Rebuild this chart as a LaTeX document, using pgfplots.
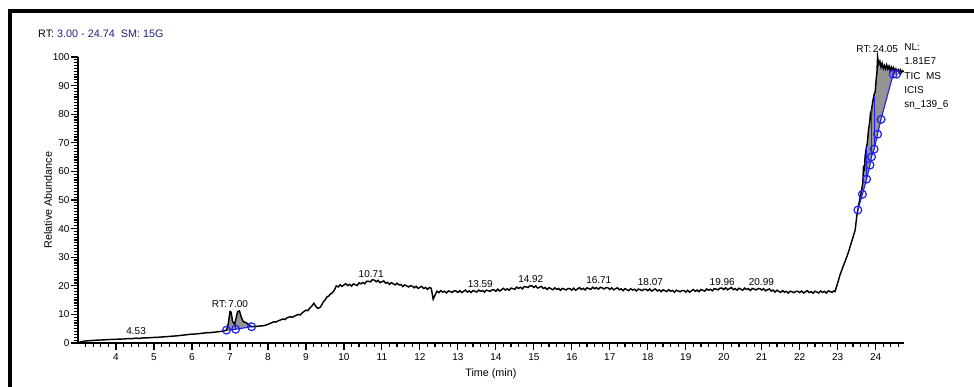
\documentclass[border=0pt]{standalone}
\usepackage{fontspec}
\setmainfont{Liberation Sans}
\usepackage{pgfplots}
\pgfplotsset{compat=1.18}
\definecolor{navy}{rgb}{0.12,0.12,0.48}
\definecolor{pkblue}{rgb}{0.12,0.12,0.95}
\begin{document}
\begin{tikzpicture}
\useasboundingbox (0pt,0pt) rectangle (974pt,387pt);
\draw[line width=4pt, line join=miter] (9.5pt,0pt) -- (9.5pt,375.7pt) -- (976pt,375.7pt);
\node[anchor=base west, inner sep=0, font=\fontsize{10.8}{12}\selectfont] at (38pt,349.5pt) {RT: \textcolor{navy}{3.00 - 24.74\ \ SM: 15G}};
\begin{axis}[
  at={(78pt,44pt)}, anchor=south west,
  width=825.8pt, height=286pt, scale only axis,
  xmin=3, xmax=24.74, ymin=0, ymax=100,
  axis x line=bottom, axis y line=left,
  axis line style={-, line width=1.4pt},
  xtick={4,...,24}, ytick={0,10,...,100},
  minor xtick={3.2,3.4,...,24.6}, minor ytick={1,...,99},
  tick align=outside,
  major tick length=7pt, minor tick length=4.5pt,
  every tick/.style={black, line width=1.2pt},
  ticklabel style={font=\fontsize{10}{11}\selectfont},
  yticklabel style={xshift=2pt},
  /pgf/number format/assume math mode=true,
  xlabel={Time (min)}, ylabel={Relative Abundance},
  label style={font=\fontsize{10.8}{12}\selectfont},
  xlabel style={at={(axis description cs:0.5,-0.1084)}, anchor=center},
  ylabel style={at={(axis description cs:-0.0363,0.5)}, anchor=center},
  clip=false,
]
% gray peak areas
\addplot[fill=black!42, draw=none] coordinates {(6.91,4.5)(6.96,7.0)(7.00,11.0)(7.03,10.8)(7.07,7.5)(7.12,6.6)(7.16,8.5)(7.20,11.0)(7.25,11.2)(7.30,9.0)(7.35,7.5)(7.44,7.0)(7.50,6.3)(7.57,5.7)(7.15,4.8)} -- cycle;
\addplot[fill=black!42, draw=none] coordinates {(23.53,46.5)(23.56,48.8)(23.60,51.5)(23.63,53.5)(23.66,56.0)(23.68,62.0)(23.70,60.0)(23.72,65.1)(23.75,68.0)(23.78,70.0)(23.81,74.5)(23.84,77.0)(23.86,80.0)(23.88,79.0)(23.90,82.6)(23.93,85.0)(23.96,87.0)(23.99,88.0)(24.01,92.0)(24.03,94.0)(24.05,100.0)(24.08,97.5)(24.11,98.5)(24.14,96.5)(24.17,97.8)(24.20,96.0)(24.23,97.0)(24.26,95.8)(24.29,97.2)(24.32,95.8)(24.35,96.8)(24.38,95.2)(24.41,96.5)(24.44,95.5)(24.47,96.3)(24.50,95.0)(24.53,95.8)(24.55,95.0)(24.55,94.0)(24.46,94.0)(24.14,78.2)(24.05,73.0)(23.96,67.8)(23.89,65.1)(23.85,62.2)(23.76,57.3)(23.65,52.0)} -- cycle;
% trace
\addplot[black, line width=1.45pt] coordinates {
(3.00,0.0)(3.05,0.3)(3.10,0.5)(3.20,0.7)(3.30,0.8)(3.40,0.9)(3.50,1.0)(3.60,1.05)(3.70,1.1)(3.80,1.2)(3.90,1.25)(4.00,1.3)(4.10,1.35)(4.20,1.4)(4.30,1.5)(4.40,1.5)(4.53,1.7)(4.60,1.6)(4.70,1.75)(4.80,1.8)(4.90,1.85)(5.00,1.95)(5.10,2.0)(5.20,2.1)(5.30,2.2)(5.40,2.3)(5.50,2.4)(5.60,2.5)(5.70,2.65)(5.80,2.8)(5.90,2.95)(6.00,3.1)(6.10,3.15)(6.20,3.3)(6.30,3.45)(6.40,3.6)(6.50,3.65)(6.60,3.8)(6.70,3.95)(6.80,4.1)(6.86,4.3)(6.91,4.5)(6.96,7.0)(7.00,11.0)(7.03,10.8)(7.07,7.5)(7.12,6.6)(7.16,8.5)(7.20,11.0)(7.25,11.2)(7.30,9.0)(7.35,7.5)(7.44,7.0)(7.50,6.3)(7.57,5.7)(7.65,5.7)(7.75,5.9)(7.89,6.05)(8.00,6.5)(8.10,7.1)(8.15,7.4)(8.20,7.3)(8.30,7.9)(8.40,8.4)(8.45,8.2)(8.50,8.8)(8.59,9.2)(8.65,9.0)(8.70,9.4)(8.80,10.0)(8.85,9.8)(8.90,10.5)(9.00,11.5)(9.05,11.3)(9.10,12.2)(9.15,12.8)(9.21,13.9)(9.25,13.0)(9.31,12.1)(9.38,12.5)(9.45,14.2)(9.50,15.0)(9.56,16.2)(9.60,16.4)(9.65,17.2)(9.70,17.6)(9.75,18.5)
(9.80,20.0)(9.85,19.6)(9.90,20.35)(9.95,19.8)(10.00,20.3)(10.05,20.7)(10.10,20.05)(10.15,20.5)(10.20,19.9)(10.25,20.65)(10.30,20.4)(10.35,20.1)(10.40,21.0)(10.45,20.7)(10.50,21.15)(10.55,20.7)(10.60,21.6)(10.65,21.55)(10.70,21.4)(10.75,22.1)(10.80,22.0)(10.85,21.4)(10.90,21.9)(10.95,21.1)(11.00,21.4)(11.05,21.7)(11.10,20.9)(11.15,21.2)(11.20,20.5)(11.25,21.1)(11.30,20.7)(11.35,20.3)(11.40,20.9)(11.45,20.3)(11.50,20.45)(11.55,19.75)(11.60,20.3)(11.65,20.0)(11.70,19.6)(11.75,20.0)(11.80,19.9)(11.85,19.3)(11.90,19.85)(11.95,19.1)(12.00,19.45)(12.05,19.8)(12.10,19.05)(12.15,19.4)(12.20,18.75)(12.25,19.4)(12.30,19.1)(12.35,15.3)(12.40,16.8)(12.45,18.1)(12.50,17.6)(12.55,18.3)(12.60,17.8)(12.65,18.1)(12.70,17.5)(12.75,18.2)(12.80,18.0)(12.85,17.7)(12.90,18.2)(12.95,18.2)(13.00,17.7)
(13.05,18.3)(13.10,17.65)(13.15,18.05)(13.20,18.5)(13.25,17.8)(13.30,18.2)(13.35,17.65)(13.40,18.35)(13.45,18.1)(13.50,17.8)(13.55,18.5)(13.60,18.05)(13.65,18.35)(13.70,17.8)(13.75,18.5)(13.80,18.3)(13.85,18.05)(13.90,18.55)(13.95,18.6)(14.00,18.1)(14.05,18.8)(14.10,18.15)(14.15,18.65)(14.20,19.1)(14.25,18.5)(14.30,18.95)(14.35,18.45)(14.40,19.2)(14.45,19.0)(14.50,18.75)(14.55,19.55)(14.60,19.1)(14.65,19.5)(14.70,18.95)(14.75,19.75)(14.80,19.6)(14.85,19.4)(14.90,20.0)(14.95,20.0)(15.00,19.4)(15.05,19.95)(15.10,19.2)(15.15,19.5)(15.20,19.8)(15.25,19.05)(15.30,19.4)(15.35,18.7)(15.40,19.35)(15.45,19.0)(15.50,18.6)(15.55,19.3)(15.60,18.75)(15.65,19.05)(15.70,18.4)(15.75,19.1)(15.80,18.85)(15.85,18.55)(15.90,19.0)(15.95,19.0)(16.00,18.5)
(16.05,19.15)(16.10,18.45)(16.15,18.9)(16.20,19.35)(16.25,18.7)(16.30,19.1)(16.35,18.55)(16.40,19.3)(16.45,19.0)(16.50,18.75)(16.55,19.5)(16.60,19.0)(16.65,19.35)(16.70,18.8)(16.75,19.5)(16.80,19.25)(16.85,18.9)(16.90,19.35)(16.95,19.3)(17.00,18.75)(17.05,19.3)(17.10,18.6)(17.15,18.95)(17.20,19.3)(17.25,18.6)(17.30,18.95)(17.35,18.3)(17.40,19.0)(17.45,18.65)(17.50,18.3)(17.55,19.0)(17.60,18.5)(17.65,18.8)(17.70,18.15)(17.75,18.85)(17.80,18.65)(17.85,18.3)(17.90,18.8)(17.95,18.8)(18.00,18.3)(18.05,18.9)(18.10,18.15)(18.15,18.55)(18.20,18.9)(18.25,18.2)(18.30,18.55)(18.35,17.95)(18.40,18.6)(18.45,18.3)(18.50,17.95)(18.55,18.65)(18.60,18.1)(18.65,18.4)(18.70,17.75)(18.75,18.45)(18.80,18.2)(18.85,17.9)(18.90,18.35)(18.95,18.35)(19.00,17.8)
(19.05,18.45)(19.10,17.8)(19.15,18.25)(19.20,18.7)(19.25,18.05)(19.30,18.5)(19.35,17.95)(19.40,18.7)(19.45,18.4)(19.50,18.15)(19.55,18.9)(19.60,18.45)(19.65,18.8)(19.70,18.25)(19.75,19.0)(19.80,18.85)(19.85,18.6)(19.90,19.15)(19.95,19.2)(20.00,18.7)(20.05,19.3)(20.10,18.6)(20.15,19.0)(20.20,19.4)(20.25,18.65)(20.30,19.05)(20.35,18.45)(20.40,19.15)(20.45,18.8)(20.50,18.5)(20.55,19.2)(20.60,18.7)(20.65,19.0)(20.70,18.35)(20.75,19.05)(20.80,18.85)(20.85,18.55)(20.90,19.0)(20.95,19.0)(21.00,18.5)(21.05,19.0)(21.10,18.25)(21.15,18.6)(21.20,18.9)(21.25,18.15)(21.30,18.5)(21.35,17.8)(21.40,18.45)(21.45,18.05)(21.50,17.7)
(21.55,18.3)(21.60,17.8)(21.65,18.05)(21.70,17.45)(21.75,18.1)(21.80,17.9)(21.85,17.6)(21.90,18.1)(21.95,18.1)(22.00,17.6)(22.05,18.2)(22.10,17.5)(22.15,17.9)(22.20,18.3)(22.25,17.6)(22.30,18.0)(22.35,17.4)(22.40,18.1)(22.45,17.8)(22.50,17.5)(22.55,18.2)(22.60,17.7)(22.65,18.05)(22.70,17.45)(22.75,18.2)(22.80,18.0)(22.85,17.7)(22.90,18.2)(22.93,18.0)
(23.00,21.0)(23.06,23.8)(23.12,26.0)(23.19,28.4)(23.25,30.5)(23.30,32.5)(23.38,36.0)(23.46,39.5)(23.50,44.2)(23.53,46.5)(23.56,48.8)(23.60,51.5)(23.63,53.5)(23.66,56.0)(23.68,62.0)(23.70,60.0)(23.72,65.1)(23.75,68.0)(23.78,70.0)(23.81,74.5)(23.84,77.0)(23.86,80.0)(23.88,79.0)(23.90,82.6)(23.93,85.0)(23.96,87.0)(23.99,88.0)(24.01,92.0)(24.03,94.0)(24.05,100.0)(24.08,97.5)(24.11,98.5)(24.14,96.5)(24.17,97.8)(24.20,96.0)(24.23,97.0)(24.26,95.8)(24.29,97.2)(24.32,95.8)(24.35,96.8)(24.38,95.2)(24.41,96.5)(24.44,95.5)(24.47,96.3)(24.50,95.0)(24.53,95.8)(24.55,95.0)(24.59,95.6)(24.62,94.4)(24.65,95.5)(24.68,94.6)(24.71,95.2)(24.74,94.8)
};
% blue baselines and boundary marks
\addplot[pkblue, line width=1.1pt] coordinates {(7.15,4.8)(7.15,7.0)};
\addplot[pkblue, line width=1.1pt] coordinates {(23.76,57.3)(23.76,68.5)};
\addplot[pkblue, line width=1.1pt] coordinates {(23.89,65.1)(23.89,81.5)};
\addplot[pkblue, line width=1.1pt] coordinates {(23.96,67.8)(23.96,86.5)};
\addplot[pkblue, line width=1.1pt, mark=o, mark size=3.9pt, mark options={line width=1.2pt}] coordinates {(6.91,4.5)(7.15,4.8)(7.57,5.7)};
\addplot[pkblue, line width=1.1pt, mark=o, mark size=3.9pt, mark options={line width=1.2pt}] coordinates {(23.53,46.5)(23.65,52.0)(23.76,57.3)(23.85,62.2)(23.89,65.1)(23.96,67.8)(24.05,73.0)(24.14,78.2)(24.46,94.0)(24.55,94.0)};
% peak labels
\begin{scope}[every node/.style={font=\fontsize{10}{11}\selectfont, inner sep=0, anchor=base}]
\node at (axis cs:4.53,2.8) {4.53};
\node at (axis cs:7.00,12.45) {RT:\,7.00};
\node at (axis cs:10.72,22.95) {10.71};
\node at (axis cs:13.59,19.35) {13.59};
\node at (axis cs:14.92,21.25) {14.92};
\node at (axis cs:16.71,20.65) {16.71};
\node at (axis cs:18.07,20.05) {18.07};
\node at (axis cs:19.96,20.05) {19.96};
\node at (axis cs:20.99,20.05) {20.99};
\node at (axis cs:24.04,101.65) {RT:\,24.05};
\end{scope}
\begin{scope}[every node/.style={font=\fontsize{10}{11}\selectfont, inner sep=0, anchor=base west}]
\node at (axis cs:24.75,102.4) {NL:};
\node at (axis cs:24.75,97.5) {1.81E7};
\node at (axis cs:24.75,92.3) {TIC\ \ MS};
\node at (axis cs:24.75,87.3) {ICIS};
\node at (axis cs:24.75,82.4) {sn\_139\_6};
\end{scope}
\end{axis}
\end{tikzpicture}
\end{document}
